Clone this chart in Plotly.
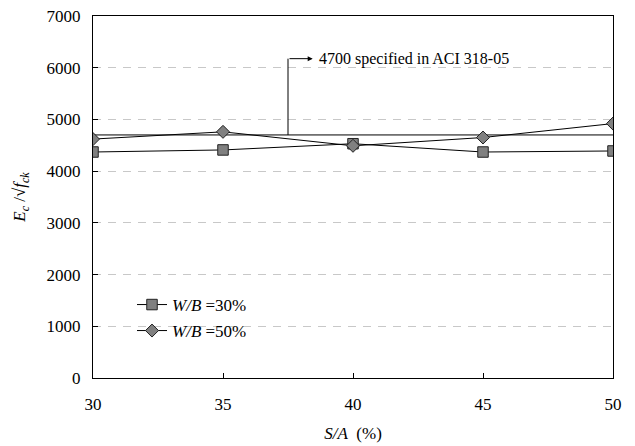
import plotly.graph_objects as go

sa = [30, 35, 40, 45, 50]
wb30 = [4370, 4410, 4530, 4370, 4390]
wb50 = [4620, 4760, 4490, 4650, 4920]
aci_value = 4700
y_ticks = [0, 1000, 2000, 3000, 4000, 5000, 6000, 7000]
x_ticks = [30, 35, 40, 45, 50]

FONT = "Liberation Serif, serif"

fig = go.Figure()
fig.add_trace(go.Scatter(
    x=[sa[0], sa[-1]], y=[aci_value, aci_value], mode="lines",
    line=dict(color="black", width=1), showlegend=False, hoverinfo="skip"))
fig.add_trace(go.Scatter(
    x=sa, y=wb30, mode="lines+markers", name="<i>W/B</i> =30%",
    line=dict(color="black", width=1),
    marker=dict(symbol="square", size=10.5, color="#808080",
                line=dict(color="#222222", width=1)),
    legend="legend"))
fig.add_trace(go.Scatter(
    x=sa, y=wb50, mode="lines+markers", name="<i>W/B</i> =50%",
    line=dict(color="black", width=1),
    marker=dict(symbol="diamond", size=10, color="#808080",
                line=dict(color="#222222", width=1)),
    legend="legend2"))

# annotation: vertical leader from 4700 line, then arrow to text
fig.add_shape(type="line", x0=37.5, x1=37.5, y0=aci_value, y1=6175,
              xref="x", yref="y", line=dict(color="black", width=1))
fig.add_annotation(x=38.45, y=6175, ax=37.5, ay=6175, axref="x", ayref="y",
                   xref="x", yref="y", text="", showarrow=True,
                   arrowhead=2, arrowsize=1, arrowwidth=1, arrowcolor="black")
fig.add_annotation(x=38.6, y=6175, xref="x", yref="y", xanchor="left",
                   yanchor="middle", showarrow=False,
                   text="4700 specified in ACI 318-05",
                   font=dict(family=FONT, size=16, color="black"))

leg_common = dict(bgcolor="rgba(0,0,0,0)", borderwidth=0, itemwidth=30,
                  font=dict(family=FONT, size=17, color="black"),
                  xanchor="left", yanchor="middle", xref="paper", yref="paper")

fig.update_layout(
    template="none",
    width=635, height=446,
    margin=dict(l=93, r=22, t=16, b=68),
    paper_bgcolor="white", plot_bgcolor="white",
    font=dict(family=FONT, size=17, color="black"),
    legend=dict(x=0.075, y=(378 - 305) / 362, **leg_common),
    legend2=dict(x=0.075, y=(378 - 331) / 362, **leg_common),
    xaxis=dict(range=[30, 50], tickvals=x_ticks, ticks="inside", ticklen=5,
               tickcolor="black", showline=True, linecolor="black",
               linewidth=1.3, mirror=True, showgrid=False, zeroline=False,
               automargin=False,
               tickfont=dict(family=FONT, size=17, color="black"),
               ticklabelstandoff=10,
               title=dict(text="<i>S/A</i>  (%)", standoff=14,
                          font=dict(family=FONT, size=17))),
    yaxis=dict(range=[0, 7000], tickvals=y_ticks, ticks="inside", ticklen=5,
               tickcolor="black", showline=True, linecolor="black",
               linewidth=1.3, mirror=True, showgrid=True,
               gridcolor="#c8c8c8", griddash="8px,7px", gridwidth=1,
               zeroline=False, automargin=False,
               tickfont=dict(family=FONT, size=17, color="black"),
               ticklabelstandoff=8,
               title=dict(text="<i>E<sub>c</sub></i> /√<i>f<sub>ck</sub></i>",
                          standoff=16, font=dict(family=FONT, size=17))),
)

fig.write_html("out.html")
